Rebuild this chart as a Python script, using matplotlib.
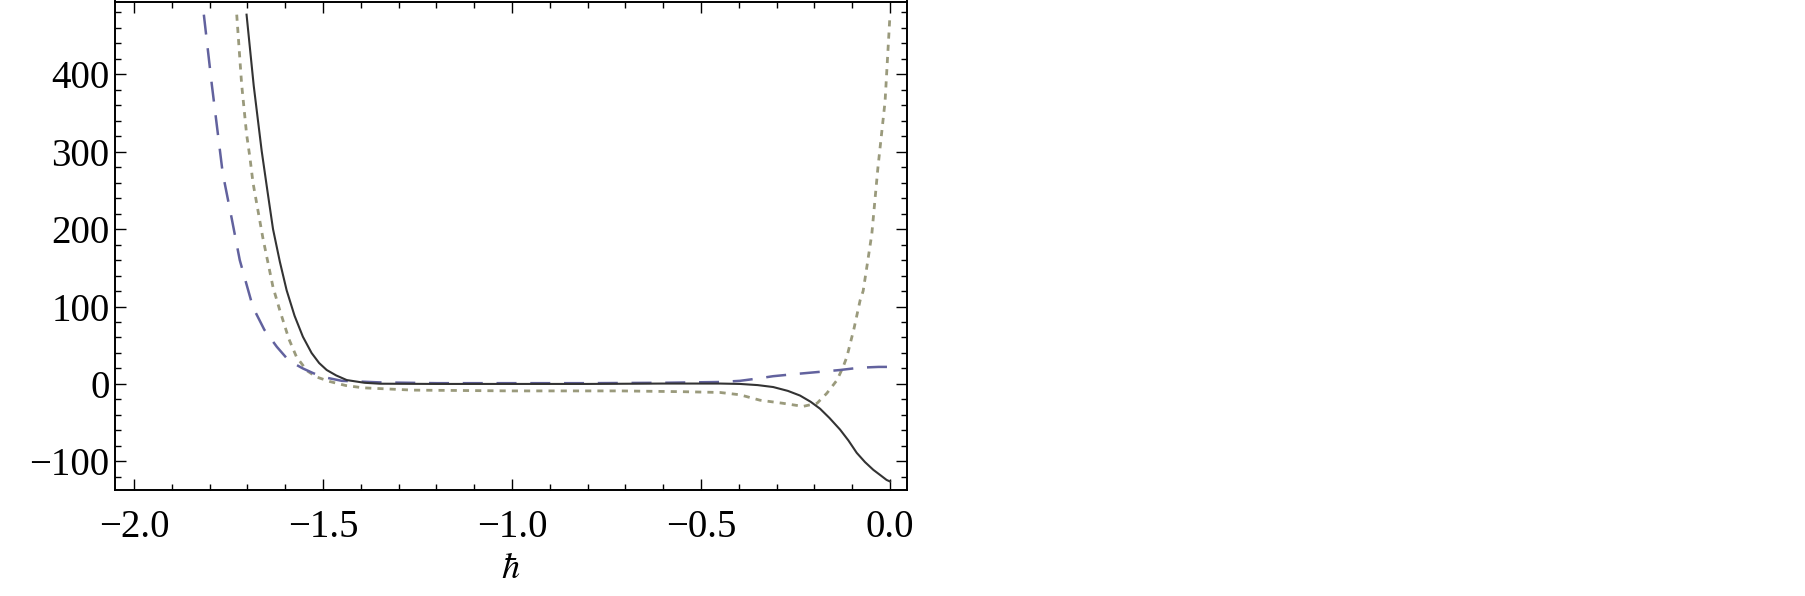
import numpy as np
import matplotlib.pyplot as plt
from matplotlib.ticker import MultipleLocator

plt.rcParams['font.family'] = 'Liberation Serif'
plt.rcParams['mathtext.fontset'] = 'stix'

# solid curve
x_solid = [-1.702, -1.683, -1.662, -1.647, -1.632, -1.614, -1.596, -1.575, -1.553,
           -1.530, -1.510, -1.490, -1.465, -1.437, -1.390, -1.349, -1.2, -1.0, -0.8,
           -0.6, -0.45, -0.397, -0.35, -0.309, -0.27, -0.238, -0.21, -0.185, -0.16,
           -0.132, -0.11, -0.088, -0.066, -0.044, -0.025, -0.009, 0.0]
y_solid = [477, 385, 301, 250, 200, 158, 121, 88, 61,
           40, 27, 18, 11, 5, 1.5, 0.3, 0, 0, 0,
           0.5, 0.5, 0, -1.5, -4, -9, -15, -23, -32, -44,
           -59, -73, -89, -101, -111, -118, -124, -126]

# long dashed curve
x_dash = [-1.815, -1.794, -1.765, -1.741, -1.720, -1.700, -1.685, -1.655, -1.622,
          -1.590, -1.553, -1.526, -1.500, -1.45, -1.35, -1.2, -1.0, -0.8, -0.6,
          -0.45, -0.397, -0.35, -0.309, -0.246, -0.177, -0.132, -0.08, -0.03, 0.0]
y_dash = [477, 387, 272, 213, 160, 125, 99, 70, 48,
          30, 20, 14, 9, 4, 2, 1, 1, 1, 1.5,
          2.5, 4, 7, 10, 13, 16, 18, 21, 22, 22]

# short dashed curve
x_dot = [-1.728, -1.715, -1.702, -1.693, -1.685, -1.659, -1.632, -1.614, -1.590,
         -1.570, -1.542, -1.517, -1.481, -1.44, -1.394, -1.262, -1.0, -0.714, -0.55,
         -0.45, -0.397, -0.344, -0.283, -0.23, -0.193, -0.167, -0.14, -0.124, -0.114,
         -0.095, -0.079, -0.071, -0.06, -0.048, -0.032, -0.013, 0.0]
y_dot = [477, 387, 323, 292, 260, 189, 125, 95, 58,
         35, 17, 9, 3, -2, -5, -8, -9, -9, -10,
         -11, -14, -21, -25, -29, -25, -12, 5, 22, 35,
         72, 108, 120, 155, 194, 279, 365, 477]

fig = plt.figure(figsize=(18.05, 5.96), dpi=100)
ax = fig.add_axes([115/1805, 1 - 490/596, (907-115)/1805, (490-1.5)/596])

ax.plot(x_dot, y_dot, color='#9a9a7c', lw=2.0, dashes=(2.2, 2.2))
ax.plot(x_dash, y_dash, color='#62629e', lw=1.8, dashes=(8, 5.5))
ax.plot(x_solid, y_solid, color='#333333', lw=1.5)

ax.set_xlim(-2.05, 0.045)
ax.set_ylim(-137, 494)
ax.xaxis.set_major_locator(MultipleLocator(0.5))
ax.xaxis.set_minor_locator(MultipleLocator(0.1))
ax.yaxis.set_major_locator(MultipleLocator(100))
ax.yaxis.set_minor_locator(MultipleLocator(20))
ax.xaxis.set_major_formatter(plt.FuncFormatter(lambda v, p: ('%.1f' % v).replace('-', '\u2212')))
ax.yaxis.set_major_formatter(plt.FuncFormatter(lambda v, p: ('%d' % v).replace('-', '\u2212')))

ax.tick_params(which='both', direction='in', top=True, right=True, width=1.0, labelsize=28)
ax.tick_params(which='major', length=8)
ax.tick_params(which='minor', length=4)
ax.tick_params(axis='x', pad=14)
ax.tick_params(axis='y', pad=4)
for s in ax.spines.values():
    s.set_linewidth(1.4)

ax.set_xlabel(r'$\hbar$', fontsize=26, labelpad=5)

plt.savefig('out.png', dpi=100)
